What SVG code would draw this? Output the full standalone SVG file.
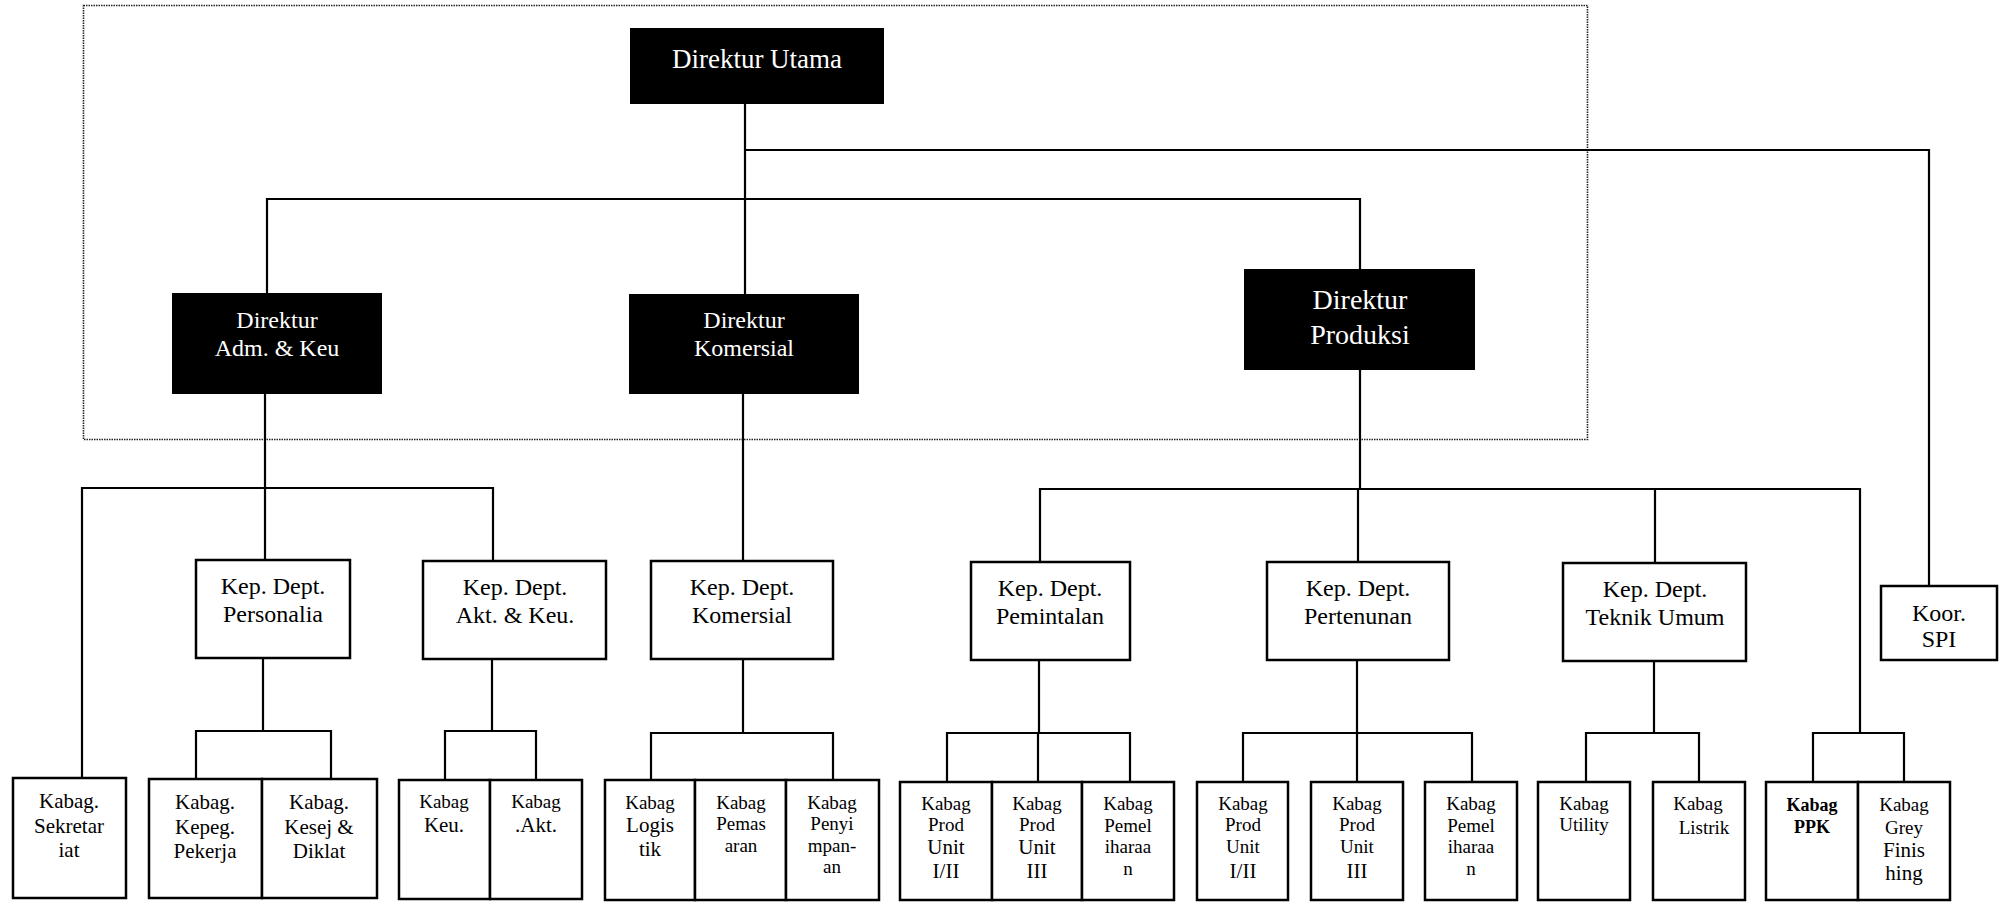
<svg xmlns="http://www.w3.org/2000/svg" width="2005" height="902" viewBox="0 0 2005 902">
<style>
.bg{fill:#fff}
.dark{fill:#000;stroke:#000;stroke-width:2}
.box{fill:#fff;stroke:#000;stroke-width:2.5}
.frame{fill:none;stroke:#222;stroke-width:1.6;stroke-dasharray:1.5 1}
.ln{fill:none;stroke:#000;stroke-width:2.2}
.wt{font-family:"Liberation Serif","Times New Roman",serif;fill:#fff;text-anchor:middle}
.t{font-family:"Liberation Serif","Times New Roman",serif;fill:#000;text-anchor:middle}
.k{font-size:24px}
.s{font-size:19px}
.m{font-size:21px}
.b{font-weight:bold;font-size:18px}
</style>
<rect class="bg" x="0" y="0" width="2005" height="902"/>
<rect class="frame" x="83.5" y="5.5" width="1504" height="434"/>

<g id="connectors">
<polyline class="ln" points="745,103 745,295"/>
<polyline class="ln" points="745,150 1929,150 1929,586"/>
<polyline class="ln" points="267,294 267,199 1360,199 1360,270"/>
<polyline class="ln" points="265,393 265,488"/>
<polyline class="ln" points="82,778 82,488 493,488 493,561"/>
<polyline class="ln" points="265,488 265,560"/>
<polyline class="ln" points="263,658 263,731"/>
<polyline class="ln" points="196,779 196,731 331,731 331,779"/>
<polyline class="ln" points="492,659 492,731"/>
<polyline class="ln" points="445,780 445,731 536,731 536,780"/>
<polyline class="ln" points="743,393 743,561"/>
<polyline class="ln" points="743,659 743,733"/>
<polyline class="ln" points="651,780 651,733 833,733 833,780"/>
<polyline class="ln" points="1360,369 1360,489"/>
<polyline class="ln" points="1040,562 1040,489 1860,489 1860,733"/>
<polyline class="ln" points="1358,489 1358,562"/>
<polyline class="ln" points="1655,489 1655,563"/>
<polyline class="ln" points="1039,660 1039,733"/>
<polyline class="ln" points="947,782 947,733 1130,733 1130,782"/>
<polyline class="ln" points="1038,733 1038,782"/>
<polyline class="ln" points="1357,660 1357,782"/>
<polyline class="ln" points="1243,782 1243,733 1472,733 1472,782"/>
<polyline class="ln" points="1654,661 1654,733"/>
<polyline class="ln" points="1586,782 1586,733 1699,733 1699,782"/>
<polyline class="ln" points="1813,782 1813,733 1904,733 1904,782"/>
</g>

<g id="dir-utama">
<rect class="dark" x="631" y="29" width="252" height="74"/>
<text class="wt" x="757" y="68" font-size="27">Direktur Utama</text>
</g>
<g id="dir-adm">
<rect class="dark" x="173" y="294" width="208" height="99"/>
<text class="wt" x="277" y="328" font-size="24">Direktur</text>
<text class="wt" x="277" y="356" font-size="24">Adm. &amp; Keu</text>
</g>
<g id="dir-komersial">
<rect class="dark" x="630" y="295" width="228" height="98"/>
<text class="wt" x="744" y="328" font-size="24">Direktur</text>
<text class="wt" x="744" y="356" font-size="24">Komersial</text>
</g>
<g id="dir-produksi">
<rect class="dark" x="1245" y="270" width="229" height="99"/>
<text class="wt" x="1360" y="309" font-size="28">Direktur</text>
<text class="wt" x="1360" y="344" font-size="28">Produksi</text>
</g>

<g id="kd-personalia">
<rect class="box" x="196" y="560" width="154" height="98"/>
<text class="t k" x="273" y="594">Kep. Dept.</text>
<text class="t k" x="273" y="622">Personalia</text>
</g>
<g id="kd-akt">
<rect class="box" x="423" y="561" width="183" height="98"/>
<text class="t k" x="515" y="595">Kep. Dept.</text>
<text class="t k" x="515" y="623">Akt. &amp; Keu.</text>
</g>
<g id="kd-komersial">
<rect class="box" x="651" y="561" width="182" height="98"/>
<text class="t k" x="742" y="595">Kep. Dept.</text>
<text class="t k" x="742" y="623">Komersial</text>
</g>
<g id="kd-pemintalan">
<rect class="box" x="971" y="562" width="159" height="98"/>
<text class="t k" x="1050" y="596">Kep. Dept.</text>
<text class="t k" x="1050" y="624">Pemintalan</text>
</g>
<g id="kd-pertenunan">
<rect class="box" x="1267" y="562" width="182" height="98"/>
<text class="t k" x="1358" y="596">Kep. Dept.</text>
<text class="t k" x="1358" y="624">Pertenunan</text>
</g>
<g id="kd-teknik">
<rect class="box" x="1563" y="563" width="183" height="98"/>
<text class="t k" x="1655" y="597">Kep. Dept.</text>
<text class="t k" x="1655" y="625">Teknik Umum</text>
</g>
<g id="koor-spi">
<rect class="box" x="1881" y="586" width="116" height="74"/>
<text class="t k" x="1939" y="621">Koor.</text>
<text class="t k" x="1939" y="647">SPI</text>
</g>

<g id="kb-sekretariat">
<rect class="box" x="13" y="778" width="113" height="120"/>
<text class="t m" x="69" y="808">Kabag.</text>
<text class="t m" x="69" y="833">Sekretar</text>
<text class="t m" x="69" y="857">iat</text>
</g>
<g id="kb-kepeg">
<rect class="box" x="149" y="779" width="113" height="119"/>
<text class="t m" x="205" y="809">Kabag.</text>
<text class="t m" x="205" y="834">Kepeg.</text>
<text class="t m" x="205" y="858">Pekerja</text>
</g>
<g id="kb-kesej">
<rect class="box" x="262" y="779" width="115" height="119"/>
<text class="t m" x="319" y="809">Kabag.</text>
<text class="t m" x="319" y="834">Kesej &amp;</text>
<text class="t m" x="319" y="858">Diklat</text>
</g>
<g id="kb-keu">
<rect class="box" x="399" y="780" width="91" height="119"/>
<text class="t s" x="444" y="808">Kabag</text>
<text class="t m" x="444" y="832">Keu.</text>
</g>
<g id="kb-akt">
<rect class="box" x="490" y="780" width="92" height="119"/>
<text class="t s" x="536" y="808">Kabag</text>
<text class="t m" x="536" y="832">.Akt.</text>
</g>
<g id="kb-logistik">
<rect class="box" x="605" y="780" width="90" height="120"/>
<text class="t s" x="650" y="809">Kabag</text>
<text class="t m" x="650" y="832">Logis</text>
<text class="t m" x="650" y="856">tik</text>
</g>
<g id="kb-pemasaran">
<rect class="box" x="695" y="780" width="91" height="120"/>
<text class="t s" x="741" y="809">Kabag</text>
<text class="t s" x="741" y="830">Pemas</text>
<text class="t s" x="741" y="852">aran</text>
</g>
<g id="kb-penyimpanan">
<rect class="box" x="786" y="780" width="93" height="120"/>
<text class="t s" x="832" y="809">Kabag</text>
<text class="t s" x="832" y="830">Penyi</text>
<text class="t s" x="832" y="852">mpan-</text>
<text class="t s" x="832" y="873">an</text>
</g>
<g id="kb-prod1-pemintalan">
<rect class="box" x="900" y="782" width="92" height="118"/>
<text class="t s" x="946" y="810">Kabag</text>
<text class="t s" x="946" y="831">Prod</text>
<text class="t m" x="946" y="854">Unit</text>
<text class="t m" x="946" y="878">I/II</text>
</g>
<g id="kb-prod3-pemintalan">
<rect class="box" x="992" y="782" width="90" height="118"/>
<text class="t s" x="1037" y="810">Kabag</text>
<text class="t s" x="1037" y="831">Prod</text>
<text class="t m" x="1037" y="854">Unit</text>
<text class="t m" x="1037" y="878">III</text>
</g>
<g id="kb-pemel-pemintalan">
<rect class="box" x="1082" y="782" width="92" height="118"/>
<text class="t s" x="1128" y="810">Kabag</text>
<text class="t s" x="1128" y="832">Pemel</text>
<text class="t s" x="1128" y="853">iharaa</text>
<text class="t s" x="1128" y="875">n</text>
</g>
<g id="kb-prod1-pertenunan">
<rect class="box" x="1197" y="782" width="91" height="118"/>
<text class="t s" x="1243" y="810">Kabag</text>
<text class="t s" x="1243" y="831">Prod</text>
<text class="t s" x="1243" y="853">Unit</text>
<text class="t m" x="1243" y="878">I/II</text>
</g>
<g id="kb-prod3-pertenunan">
<rect class="box" x="1311" y="782" width="92" height="118"/>
<text class="t s" x="1357" y="810">Kabag</text>
<text class="t s" x="1357" y="831">Prod</text>
<text class="t s" x="1357" y="853">Unit</text>
<text class="t m" x="1357" y="878">III</text>
</g>
<g id="kb-pemel-pertenunan">
<rect class="box" x="1425" y="782" width="92" height="118"/>
<text class="t s" x="1471" y="810">Kabag</text>
<text class="t s" x="1471" y="832">Pemel</text>
<text class="t s" x="1471" y="853">iharaa</text>
<text class="t s" x="1471" y="875">n</text>
</g>
<g id="kb-utility">
<rect class="box" x="1538" y="782" width="92" height="118"/>
<text class="t s" x="1584" y="810">Kabag</text>
<text class="t s" x="1584" y="831">Utility</text>
</g>
<g id="kb-listrik">
<rect class="box" x="1653" y="782" width="92" height="118"/>
<text class="t s" x="1698" y="810">Kabag</text>
<text class="t s" x="1704" y="834">Listrik</text>
</g>
<g id="kb-ppk">
<rect class="box" x="1766" y="782" width="92" height="118"/>
<text class="t b" x="1812" y="811">Kabag</text>
<text class="t b" x="1812" y="833">PPK</text>
</g>
<g id="kb-grey">
<rect class="box" x="1858" y="782" width="92" height="118"/>
<text class="t s" x="1904" y="811">Kabag</text>
<text class="t s" x="1904" y="834">Grey</text>
<text class="t m" x="1904" y="857">Finis</text>
<text class="t m" x="1904" y="880">hing</text>
</g>
</svg>
